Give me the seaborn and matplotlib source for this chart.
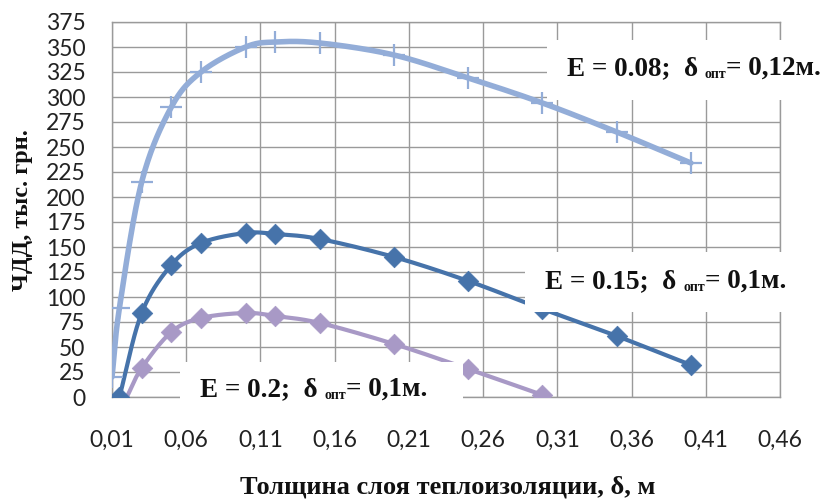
import numpy as np
import pandas as pd
import matplotlib
matplotlib.use("Agg")
import matplotlib.pyplot as plt
import seaborn as sns
from matplotlib.patches import Rectangle

# ---- data ----
x_e008 = [0.01, 0.015, 0.03, 0.05, 0.07, 0.10, 0.12, 0.15, 0.20, 0.25, 0.30, 0.35, 0.40]
y_e008 = [20, 89, 215, 290, 325, 350, 355, 354, 342, 319, 294, 265, 234]

x_e015 = [0.015, 0.03, 0.05, 0.07, 0.10, 0.12, 0.15, 0.20, 0.25, 0.30, 0.35, 0.40]
y_e015 = [0, 84, 132, 154, 164, 163, 158, 140, 116, 88, 61, 32]

x_e02 = [0.02, 0.03, 0.05, 0.07, 0.10, 0.12, 0.15, 0.20, 0.25, 0.30]
y_e02 = [0, 29, 65, 79, 84, 81, 74, 53, 28, 2]

x_ticks = [0.01, 0.06, 0.11, 0.16, 0.21, 0.26, 0.31, 0.36, 0.41, 0.46]
x_tick_labels = ["0,01", "0,06", "0,11", "0,16", "0,21", "0,26", "0,31", "0,36", "0,41", "0,46"]
y_ticks = list(range(0, 376, 25))

labels = [("E = 0.08;  δ ", "опт", "= 0,12м."),
          ("E = 0.15;  δ ", "опт", "= 0,1м."),
          ("E = 0.2;  δ ", "опт", "= 0,1м.")]

c_light = "#93ADD8"
c_blue = "#4673AA"
c_purple = "#A899C6"


def smooth(xs, ys, n=40):
    """Catmull-Rom (Excel-like smoothing) through the given points."""
    p = np.column_stack([xs, ys]).astype(float)
    sx = 1486.0
    q = p.copy()
    q[:, 0] *= sx
    ext = np.vstack([q[0] - (q[1] - q[0]), q, q[-1] + (q[-1] - q[-2])])
    out = []
    for i in range(1, len(ext) - 2):
        p0, p1, p2, p3 = ext[i - 1], ext[i], ext[i + 1], ext[i + 2]
        t = np.linspace(0, 1, n, endpoint=(i == len(ext) - 3))[:, None]
        seg = 0.5 * ((2 * p1) + (-p0 + p2) * t + (2 * p0 - 5 * p1 + 4 * p2 - p3) * t ** 2
                     + (-p0 + 3 * p1 - 3 * p2 + p3) * t ** 3)
        out.append(seg)
    out = np.vstack(out)
    out[:, 0] /= sx
    return out[:, 0], out[:, 1]


sns.set_theme(style="white")
plt.rcParams["font.family"] = ["Lato", "DejaVu Sans"]

W, H = 825, 500
fig = plt.figure(figsize=(W / 100, H / 100), dpi=100)
ax = fig.add_axes([112 / W, 1 - 397 / H, (780 - 112) / W, (397 - 22) / H])

series = [(x_e008, y_e008, c_light, 4.0, "+", 0),
          (x_e015, y_e015, c_blue, 3.0, "D", 0),
          (x_e02, y_e02, c_purple, 3.0, "D", 1)]

for xs, ys, col, lw, mk, skip in series:
    sx_, sy_ = smooth(xs, ys)
    d = pd.DataFrame({"x": sx_, "y": sy_})
    sns.lineplot(data=d, x="x", y="y", ax=ax, color=col, lw=lw, sort=False,
                 estimator=None, zorder=3)
    dm = pd.DataFrame({"x": xs[skip:], "y": ys[skip:]})
    if mk == "+":
        sns.scatterplot(data=dm, x="x", y="y", ax=ax, marker="+", s=230,
                        color=col, linewidth=1.6, zorder=4)
    else:
        sns.scatterplot(data=dm, x="x", y="y", ax=ax, marker="D", s=110,
                        color=col, edgecolor=col, linewidth=0.5, zorder=4)

ax.set_xlim(0.01, 0.46)
ax.set_ylim(0, 375)
ax.set_xticks(x_ticks)
ax.set_xticklabels(x_tick_labels)
ax.set_yticks(y_ticks)
ax.grid(True, color="#9A9A9A", lw=1.0)
ax.set_axisbelow(True)
for s in ax.spines.values():
    s.set_color("#9A9A9A")
    s.set_linewidth(1.0)
ax.tick_params(axis="both", length=0, labelsize=16.5, colors="#222222")
ax.tick_params(axis="y", pad=19)
ax.tick_params(axis="x", pad=24)
ax.set_xlabel("")
ax.set_ylabel("")

serif = ["Liberation Serif", "DejaVu Serif"]
fig.text(448 / W, 1 - 487 / H, "Толщина слоя теплоизоляции, δ, м", family=serif,
         weight="bold", fontsize=19, ha="center", va="center", color="#111111")
fig.text(23 / W, 1 - 210 / H, "ЧДД, тыс. грн.", family=serif, weight="bold",
         fontsize=17.5, rotation=90, ha="center", va="center", color="#111111")

# white label boxes
boxes = [(547, 40, 825 - 547, 60), (525, 252, 800 - 525, 60), (180, 362, 463 - 180, 44)]
text_pos = [(567, 75), (545, 288), (200, 396)]
fig.canvas.draw()
renderer = fig.canvas.get_renderer()
for (bx, by, bw, bh), (tx, ty), (a, sub, b) in zip(boxes, text_pos, labels):
    fig.patches.append(Rectangle((bx / W, 1 - (by + bh) / H), bw / W, bh / H,
                                 transform=fig.transFigure, facecolor="white",
                                 edgecolor="none", zorder=5))
    x = tx
    t1 = fig.text(x / W, 1 - ty / H, a, family=serif, weight="bold", fontsize=19.5,
                  ha="left", va="baseline", zorder=6, color="#111111")
    x += t1.get_window_extent(renderer).width
    t2 = fig.text(x / W, 1 - (ty + 3) / H, sub, family=serif, weight="bold",
                  fontsize=10, ha="left", va="baseline", zorder=6, color="#111111")
    x += t2.get_window_extent(renderer).width
    fig.text(x / W, 1 - ty / H, b, family=serif, weight="bold", fontsize=19.5,
             ha="left", va="baseline", zorder=6, color="#111111")

fig.savefig("out.png", dpi=100)
